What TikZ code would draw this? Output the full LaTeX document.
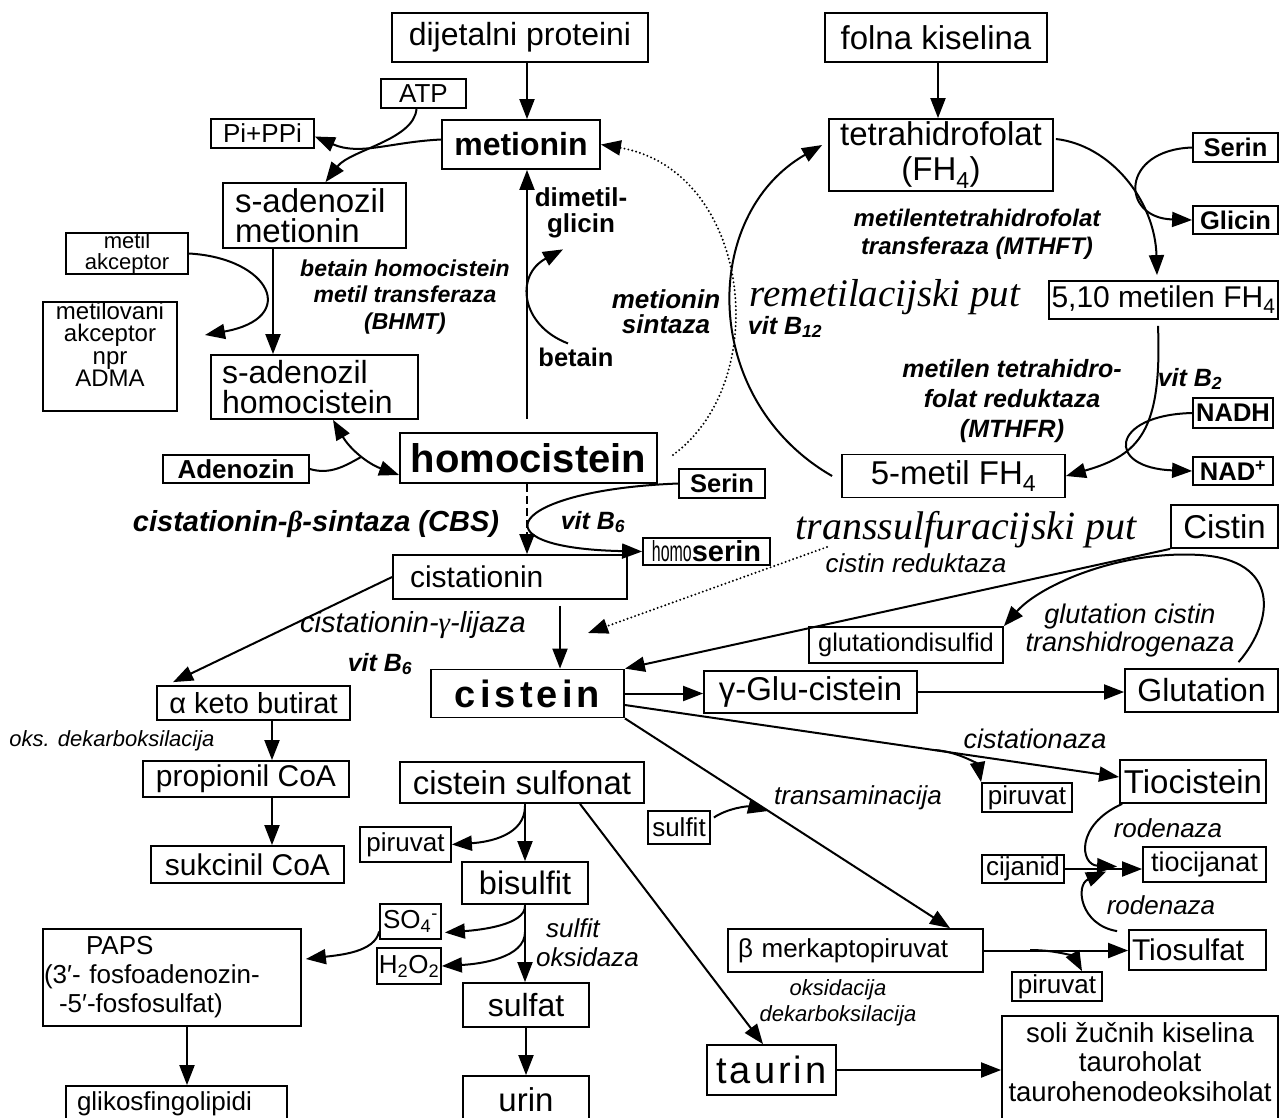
\documentclass[tikz,border=0pt]{standalone}
\usepackage{fontspec}
\setmainfont{Liberation Sans}
\newfontfamily\tmsfont{Liberation Serif}
\newfontfamily\homofont[FakeStretch=0.55]{Liberation Sans}
\newfontfamily\cysfont[LetterSpace=11]{Liberation Sans}
\newfontfamily\taufont[LetterSpace=8]{Liberation Sans}
\usetikzlibrary{arrows.meta}
\newcommand{\fsz}[2]{\fontsize{#1}{#2}\selectfont\lineskiplimit=-60pt\relax}

\begin{document}
\begin{tikzpicture}[x=1pt,y=-1pt,
  box/.style={draw,line width=1.8pt,inner sep=0pt,align=center},
  sz/.style 2 args={minimum width=#1,minimum height=#2},
  lbl/.style={inner sep=0pt,align=center},
  arr/.style={-{Triangle[length=20pt,width=15pt]},line width=2pt},
  arrs/.style={{Triangle[length=20pt,width=15pt]}-{Triangle[length=20pt,width=15pt]},line width=2pt},
  ln/.style={line width=2pt},
  dotarr/.style={arr,line width=2.2pt,line cap=round,dash pattern=on 0pt off 4pt},
  dasharr/.style={arr,dash pattern=on 8pt off 4pt}
]
\useasboundingbox (0,0) rectangle (1284,1117);
\fill[white] (0,0) rectangle (1284,1117);

\node[box,sz={256}{49},font=\fsz{32}{34}] (dp) at (520,37.5) {dijetalni proteini};
\node[box,sz={222}{49},font=\fsz{33}{35}] (fk) at (936,37.5) {folna kiselina};
\node[box,sz={85}{29},font=\fsz{26}{28}] (atp) at (423.5,93.5) {ATP};
\node[box,sz={103}{29},font=\fsz{26}{28}] (pippi) at (262.5,133.5) {Pi+PPi};
\node[box,sz={158}{49},font=\bfseries\fsz{32}{34}] (met) at (521,144.5) {metionin};
\node[box,minimum height=65,text width=159,inner xsep=12pt,align=left,font=\fsz{33}{30}] (sam) at (314.5,215.5) {s-adenozil\\metionin};
\node[box,sz={122}{41},font=\fsz{22}{21}] (ma) at (127,253.5) {metil\\akceptor};
\node[box,sz={134}{109},font=\fsz{24}{22.5}] (mla) at (110,356.5) {metilovani\\akceptor\\npr\\ADMA\rule[-24pt]{0pt}{0pt}};
\node[box,minimum height=64,text width=185,inner xsep=11pt,align=left,font=\fsz{32}{30.5}] (sah) at (314.5,387) {s-adenozil\\homocistein};
\node[box,sz={146}{28},font=\bfseries\fsz{26}{28}] (ado) at (236,469) {Adenozin};
\node[box,sz={257}{50},font=\bfseries\fsz{40}{42}] (hcy) at (528.5,458) {homocistein};

\node[lbl,font=\bfseries\itshape\fsz{23}{26.5}] (bhmt) at (405,297) {betain homocistein\\metil transferaza\\(BHMT)};
\node[lbl,font=\bfseries\fsz{26}{26}] (dmg) at (581,213) {dimetil-\\glicin};
\node[lbl,font=\bfseries\fsz{25.5}{26}] (bet) at (576,357) {betain};
\node[lbl,font=\bfseries\itshape\fsz{26}{25}] (ms) at (666,312) {metionin\\sintaza};

\node[box,sz={224}{72},font=\fsz{33}{35}] (thf) at (941,155) {tetrahidrofolat\\(FH\textsubscript{4})};
\node[box,sz={85}{29},font=\bfseries\fsz{25.5}{28}] (ser1) at (1235.5,147.5) {Serin};
\node[box,sz={85}{28},font=\bfseries\fsz{25.5}{28}] (gly) at (1235.5,220) {Glicin};
\node[lbl,font=\bfseries\itshape\fsz{24}{28}] (mthft) at (977,234) {metilentetrahidrofolat\\transferaza (MTHFT)};
\node[box,sz={229}{38},font=\fsz{30}{32}] (mlfh) at (1163.5,300) {5,10 metilen FH\textsubscript{4}};
\node[lbl,font=\tmsfont\itshape\fsz{39}{40}] (remet) at (885,297) {remetilacijski put};
\node[lbl,font=\bfseries\itshape\fsz{25}{27}] (b12) at (785,327) {vit B\textsubscript{12}};
\node[lbl,font=\bfseries\itshape\fsz{25}{30}] (mthfr) at (1012,401) {metilen tetrahidro-\\folat reduktaza\\(MTHFR)};
\node[lbl,font=\bfseries\itshape\fsz{25}{27}] (b2) at (1190,379) {vit B\textsubscript{2}};
\node[box,sz={80}{30},font=\bfseries\fsz{25.5}{28}] (nadh) at (1233,413) {NADH};
\node[box,sz={80}{28},font=\bfseries\fsz{25.5}{28}] (nad) at (1233,471) {NAD\textsuperscript{+}};
\node[box,sz={223}{43},font=\fsz{33}{35}] (mfh) at (953.5,476) {5-metil FH\textsubscript{4}};

\node[box,sz={86}{29},font=\bfseries\fsz{25.5}{28}] (ser2) at (722,483.5) {Serin};
\node[lbl,font=\bfseries\itshape\fsz{29}{31}] (cbs) at (316,524) {cistationin-{\tmsfont β}-sintaza (CBS)};
\node[lbl,font=\bfseries\itshape\fsz{25}{27}] (b6a) at (593,522) {vit B\textsubscript{6}};
\node[box,sz={127}{27},font=\fsz{29}{29}] (hse) at (706.5,551.5) {{\homofont homo}\textbf{serin}};
\node[lbl,font=\tmsfont\itshape\fsz{40}{42}] (trans) at (966,530) {transsulfuracijski put};
\node[lbl,font=\itshape\fsz{26}{28}] (crd) at (916,563) {cistin reduktaza};
\node[box,sz={107}{43},font=\fsz{33}{35}] (cis) at (1224.5,526.5) {Cistin};
\node[box,minimum height=44,text width=200,inner xsep=17pt,align=left,font=\fsz{30}{32}] (cst) at (510,577) {cistationin};
\node[lbl,font=\itshape\fsz{29}{31}] (cgl) at (413,625) {cistationin-{\tmsfont γ}-lijaza};
\node[lbl,font=\bfseries\itshape\fsz{25}{27}] (b6b) at (380,664) {vit B\textsubscript{6}};
\node[box,sz={193}{48},font=\cysfont\bfseries\fsz{38}{40}] (cys) at (527.5,693.5) {cistein};
\node[box,sz={193}{34},font=\fsz{29}{31}] (akb) at (253.5,703) {α keto butirat};
\node[lbl,font=\itshape\fsz{22}{24}] (okd) at (112,741) {oks. dekarboksilacija};
\node[box,sz={206}{36},font=\fsz{30}{32}] (prp) at (246,779) {propionil CoA};
\node[box,sz={193}{37},font=\fsz{30}{32}] (suk) at (247.5,864.5) {sukcinil CoA};
\node[box,sz={213}{42},font=\fsz{33}{35}] (ggc) at (810.5,692) {γ-Glu-cistein};
\node[box,sz={153}{43},font=\fsz{32}{34}] (glu) at (1201.5,690.5) {Glutation};
\node[box,sz={194}{36},font=\fsz{25.5}{28}] (gsd) at (906,645) {glutationdisulfid};
\node[lbl,font=\itshape\fsz{27}{28}] (gct) at (1130,631) {glutation cistin\\transhidrogenaza};

\node[lbl,font=\itshape\fsz{27}{29}] (cstz) at (1035,739) {cistationaza};
\node[box,sz={146}{43},font=\fsz{33}{35}] (tcs) at (1193,781.5) {Tiocistein};
\node[box,sz={90}{29},font=\fsz{26}{28}] (pyr1) at (1027,797.5) {piruvat};
\node[lbl,font=\itshape\fsz{26}{28}] (trm) at (858,798) {transaminacija};
\node[box,sz={62}{33},font=\fsz{26}{28}] (sul) at (679,827.5) {sulfit};
\node[lbl,font=\itshape\fsz{26}{28}] (rod1) at (1168,828) {rodenaza};
\node[box,sz={82}{28},font=\fsz{26}{28}] (cyn) at (1023,869) {cijanid};
\node[box,sz={123}{35},font=\fsz{27}{29}] (tcn) at (1204.5,864.5) {tiocijanat};
\node[lbl,font=\itshape\fsz{26}{28}] (rod2) at (1161,905) {rodenaza};
\node[box,minimum height=40,text width=131,inner xsep=3pt,align=left,font=\fsz{30}{32}] (tsf) at (1197.5,950) {Tiosulfat};
\node[box,minimum height=43,text width=235,inner xsep=10pt,align=left,font=\fsz{26}{28}] (bmp) at (855.5,950.5) {β merkaptopiruvat};
\node[box,sz={90}{29},font=\fsz{26}{28}] (pyr3) at (1057,986.5) {piruvat};
\node[lbl,font=\itshape\fsz{22}{26}] (oxd) at (838,1003) {oksidacija\\dekarboksilacija};
\node[box,sz={129}{50},font=\taufont\fsz{38}{40}] (tau) at (771.5,1070) {taurin};
\node[box,sz={276}{105},font=\fsz{27.5}{29.5}] (soli) at (1140,1068.5) {soli žučnih kiselina\\tauroholat\\taurohenodeoksiholat\rule[-14pt]{0pt}{0pt}};

\node[box,sz={244}{41},font=\fsz{33}{35}] (csf) at (522,782.5) {cistein sulfonat};
\node[box,sz={91}{35},font=\fsz{26}{28}] (pyr2) at (405.5,844.5) {piruvat};
\node[box,sz={126}{42},font=\fsz{32.5}{34}] (bsf) at (525,883) {bisulfit};
\node[box,sz={61}{35},font=\fsz{26}{28}] (so4) at (410.5,921.5) {SO\textsubscript{4}\textsuperscript{-}};
\node[box,sz={64}{36},font=\fsz{26}{28}] (hoo) at (409,966) {H\textsubscript{2}O\textsubscript{2}};
\node[lbl,anchor=west,align=left,font=\itshape\fsz{26}{29}] (sox) at (536,943) {\hspace*{10pt}sulfit\\oksidaza};
\node[box,sz={126}{44},font=\fsz{32}{34}] (slf) at (526,1005) {sulfat};
\node[box,sz={126}{48},font=\fsz{33}{35}] (urin) at (526,1100) {urin};
\node[box,minimum height=97,text width=256,inner xsep=1pt,align=left,font=\fsz{26}{29}] (paps) at (172,977.5) {\hspace*{42pt}PAPS\\(3′- fosfoadenozin-\\\hspace*{15pt}-5′-fosfosulfat)};
\node[box,minimum height=36,text width=199,inner xsep=11pt,align=left,font=\fsz{26}{28}] (gsl) at (176.5,1104) {glikosfingolipidi};

\draw[arr] ([xshift=7pt]dp.south) -- ([xshift=6pt]met.north);
\draw[arr] ([xshift=2pt]fk.south) -- ([xshift=-3pt]thf.north);
\draw[arr] ([yshift=5pt]met.west) .. controls (390,142) and (360,156) .. ([yshift=-3pt]pippi.east);
\draw[arr] ([xshift=-7pt]atp.south) .. controls (414,140) and (350,150) .. ([xshift=11pt]sam.north);
\draw[arr] ([xshift=-41.5pt]sam.south) -- ([xshift=-41.5pt]sah.north);
\coordinate (mlaIn) at (205,335);
\draw[arr] (ma.east) .. controls (270,258) and (300,318) .. (mlaIn);
\draw[arrs] ([xshift=18.5pt]sah.south) to[bend right=20] ([yshift=-17pt]hcy.west);
\coordinate (adoJoin) at (361,457);
\draw[ln] (ado.east) .. controls (330,475) and (345,466) .. (adoJoin);
\draw[arr] ([xshift=-1.5pt,yshift=13pt]hcy.north) -- ([xshift=6pt]met.south);
\draw[arr] ([xshift=-8pt,yshift=4pt]bet.north) .. controls (520,325) and (515,275) .. ([xshift=-18pt,yshift=-11pt]dmg.south);
\draw[dotarr] ([xshift=15pt,yshift=3pt]hcy.east) .. controls (775,380) and (750,170) .. (met.east);

\draw[arr] ([xshift=-9pt]mfh.west) .. controls (700,400) and (700,215) .. ([xshift=-6pt,yshift=10pt]thf.west);
\draw[arr] ([xshift=2pt,yshift=16pt]thf.east) .. controls (1110,145) and (1155,200) .. ([xshift=-6.5pt,yshift=5pt]mlfh.north);
\draw[arr] (ser1.west) .. controls (1120,150) and (1120,218) .. (gly.west);
\draw[arr] ([xshift=-5.5pt,yshift=-6pt]mlfh.south) .. controls (1162,430) and (1140,455) .. (mfh.east);
\draw[arr] (nadh.west) .. controls (1110,415) and (1105,468) .. (nad.west);

\draw[dasharr] ([xshift=-1.5pt]hcy.south) -- ([xshift=17pt]cst.north);
\draw[arr] (ser2.west) .. controls (510,490) and (470,548) .. (hse.west);
\coordinate (tsStart) at (827,547);
\coordinate (tsEnd) at (588,633);
\draw[dotarr] (tsStart) -- (tsEnd);
\draw[arr] ([xshift=50pt,yshift=-6pt]cst.south) -- ([xshift=32.5pt]cys.north);
\draw[arr] (cst.west) -- ([xshift=17pt,yshift=3pt]akb.north west);
\draw[arr] ([xshift=18.5pt]akb.south) -- ([xshift=18.5pt]akb.south |- prp.north);
\draw[arr] ([xshift=26pt]prp.south) -- ([xshift=26pt]prp.south |- suk.north);
\draw[arr] (cis.south west) -- (cys.north east);
\draw[arr] ([xshift=37pt,yshift=6pt]glu.north) .. controls (1275,620) and (1280,560) .. (1200,555) .. controls (1120,550) and (1040,585) .. (gsd.north east);
\draw[arr] (cys.east) -- (cys.east -| ggc.west);
\draw[arr] (ggc.east) -- (ggc.east -| glu.west);

\draw[arr] ([yshift=-11.5pt]cys.east) -- ([yshift=4.5pt]tcs.west);
\coordinate (cstzBr) at (935,750);
\draw[arr] (cstzBr) .. controls (960,752) and (978,765) .. (pyr1.north west);
\draw[arr] (cys.south east) -- ([xshift=94.5pt]bmp.north);
\coordinate (sulIn) at (768,811);
\draw[arr] ([xshift=3pt,yshift=10pt]sul.east) .. controls (728,808) and (748,806) .. (sulIn);
\draw[arr] ([xshift=3pt]tcs.south west) .. controls (1075,825) and (1080,865) .. ([xshift=-25pt,yshift=-2pt]tcn.west);
\draw[arr] ([xshift=-11pt,yshift=-2pt]tsf.north west) .. controls (1080,925) and (1075,885) .. ([xshift=-36pt,yshift=-7pt]tcn.west);
\draw[arr] (cyn.east) -- (cyn.east -| tcn.west);
\draw[arr] (bmp.east) -- (bmp.east -| tsf.west);
\coordinate (tsfBr) at (1030,950);
\draw[arr] (tsfBr) .. controls (1060,950) and (1075,958) .. ([xshift=25pt]pyr3.north);
\draw[arr] ([xshift=58pt]csf.south) -- ([xshift=-8.5pt]tau.north);
\draw[arr] (tau.east) -- (tau.east -| soli.west);

\draw[arr] (bsf.north |- csf.south) -- (bsf.north);
\coordinate (pyrBr) at (525,806);
\draw[arr] (pyrBr) .. controls (525,835) and (490,842) .. (pyr2.east);
\draw[arr] (bsf.south) -- (bsf.south |- slf.north);
\coordinate (so4Br) at (525,906);
\draw[arr] (so4Br) .. controls (525,925) and (480,930) .. ([xshift=3pt,yshift=-11pt]so4.east);
\coordinate (hooBr) at (525,932);
\draw[arr] (hooBr) .. controls (525,958) and (480,964) .. (hoo.east);
\draw[arr] (slf.south) -- (slf.south |- urin.north);
\draw[arr] ([yshift=-10pt]so4.west) .. controls (375,952) and (340,955) .. ([xshift=4pt,yshift=18.5pt]paps.east);
\draw[arr] ([xshift=15pt]paps.south) -- ([xshift=15pt]paps.south |- gsl.north);
\end{tikzpicture}
\end{document}
